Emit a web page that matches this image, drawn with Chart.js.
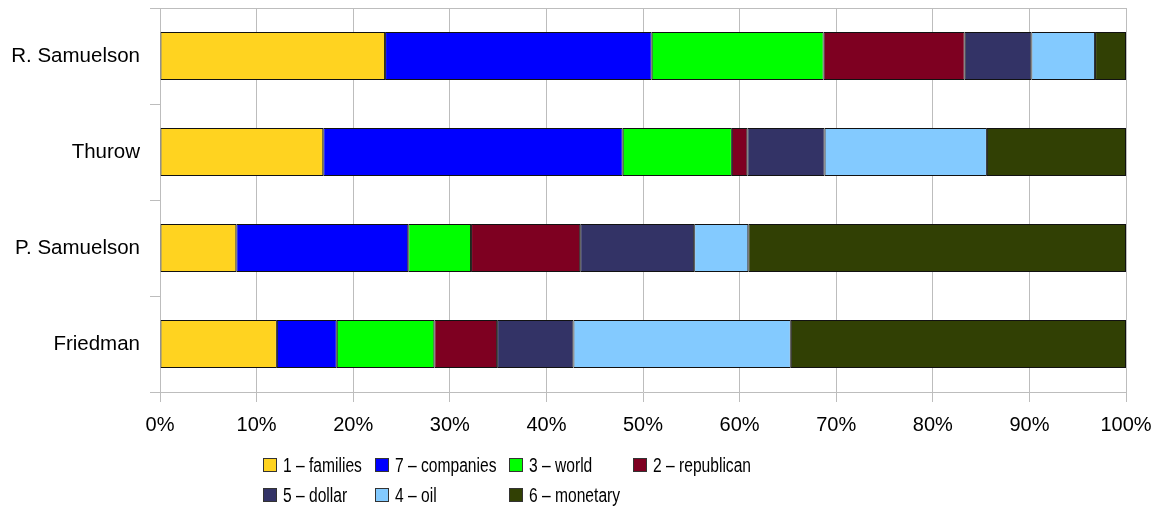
<!DOCTYPE html>
<html>
<head>
<meta charset="utf-8">
<script src="https://cdn.jsdelivr.net/npm/chart.js@4"></script>
<style>
  html, body { margin: 0; padding: 0; background: #fff; }
  #wrap { position: relative; width: 1159px; height: 507px; }
  #legend {
    position: absolute; left: 263px; top: 450px;
    display: grid; grid-template-columns: repeat(4, auto);
    column-gap: 13px; grid-auto-rows: 30px;
    font-family: "Liberation Sans", sans-serif;
    font-size: 20px; color: #000;
  }
  .item { display: flex; align-items: center; white-space: nowrap; }
  .box { width: 12px; height: 12px; border: 1px solid #333; margin-right: 6px; flex: none; }
  .txtwrap { display: inline-block; overflow: visible; }
  .txt { display: inline-block; transform: scaleX(0.78); transform-origin: left center; }
</style>
</head>
<body>
<div id="wrap">
  <canvas id="c" width="1159" height="507"></canvas>
  <div id="legend"></div>
</div>
<script>
const categories = ["R. Samuelson", "Thurow", "P. Samuelson", "Friedman"];
const seriesNames = ["1 – families", "7 – companies", "3 – world", "2 – republican", "5 – dollar", "4 – oil", "6 – monetary"];
const families   = [23.3, 16.9, 7.9, 12.1];
const companies  = [27.6, 31.0, 17.8, 6.2];
const world      = [17.8, 11.3, 6.5, 10.1];
const republican = [14.6, 1.6, 11.3, 6.5];
const dollar     = [6.9, 8.0, 11.8, 7.9];
const oil        = [6.6, 16.8, 5.6, 22.5];
const monetary   = [3.2, 14.4, 39.1, 34.7];
const xTicks = ["0%", "10%", "20%", "30%", "40%", "50%", "60%", "70%", "80%", "90%", "100%"];
const colors = ["#ffd320", "#0000ff", "#00ff00", "#7e0021", "#333366", "#83caff", "#314004"];

const seriesValues = [families, companies, world, republican, dollar, oil, monetary];

const topLine = {
  id: 'topLine',
  beforeDatasetsDraw(chart) {
    const a = chart.chartArea, ctx = chart.ctx;
    ctx.save();
    ctx.strokeStyle = '#bdbdbd';
    ctx.lineWidth = 1;
    ctx.beginPath();
    ctx.moveTo(a.left - 10, a.top + 0.5);
    ctx.lineTo(a.right, a.top + 0.5);
    ctx.stroke();
    ctx.restore();
  }
};

const chart = new Chart(document.getElementById('c'), {
  type: 'bar',
  data: {
    labels: categories,
    datasets: seriesNames.map((n, i) => ({
      label: n,
      data: seriesValues[i],
      backgroundColor: colors[i],
      borderColor: '#111',
      borderWidth: 1,
      borderSkipped: false,
      categoryPercentage: 1.0,
      barPercentage: 0.5
    }))
  },
  options: {
    indexAxis: 'y',
    responsive: false,
    animation: false,
    layout: { padding: { top: 8, right: 33, bottom: 71, left: 0 } },
    plugins: { legend: { display: false }, tooltip: { enabled: false } },
    scales: {
      x: {
        stacked: true, min: 0, max: 100,
        ticks: {
          stepSize: 10, padding: 11, color: '#000',
          font: { family: 'Liberation Sans', size: 20 },
          callback: (v, i) => xTicks[i]
        },
        grid: { color: '#bdbdbd', lineWidth: 1, tickLength: 10 },
        border: { color: '#bdbdbd' },
        afterFit(s) { s.height = 44; s.paddingLeft = 0; s.paddingRight = 0; }
      },
      y: {
        stacked: true,
        ticks: { padding: 10, color: '#000', font: { family: 'Liberation Sans', size: 20.5 } },
        grid: { drawOnChartArea: false, offset: true, color: '#bdbdbd', tickLength: 10 },
        border: { color: '#bdbdbd' },
        afterFit(s) { s.width = 160; s.paddingTop = 0; s.paddingBottom = 0; }
      }
    }
  },
  plugins: [topLine]
});

const leg = document.getElementById('legend');
chart.data.datasets.forEach(ds => {
  const it = document.createElement('div');
  it.className = 'item';
  const b = document.createElement('span');
  b.className = 'box';
  b.style.background = ds.backgroundColor;
  const w = document.createElement('span');
  w.className = 'txtwrap';
  const t = document.createElement('span');
  t.className = 'txt';
  t.textContent = ds.label;
  w.appendChild(t);
  it.appendChild(b); it.appendChild(w);
  leg.appendChild(it);
  w.style.width = t.getBoundingClientRect().width + 'px';
});
</script>
</body>
</html>
